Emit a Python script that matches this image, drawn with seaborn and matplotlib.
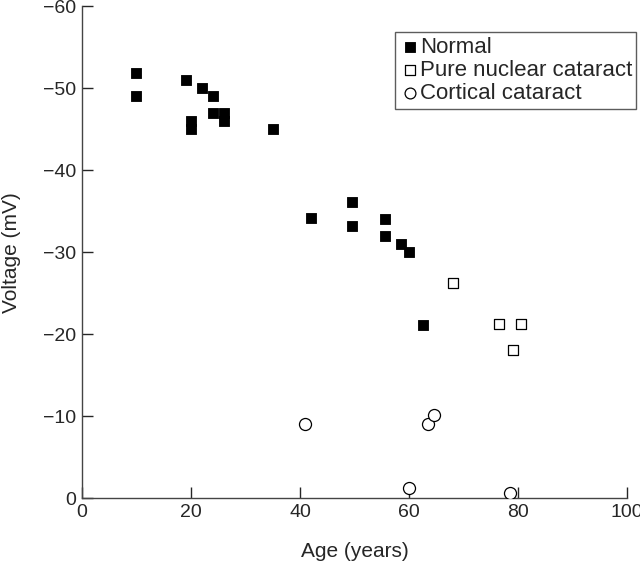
"""Lens voltage versus age scatter."""

import matplotlib.pyplot as plt
import pandas as pd
import seaborn as sns

# Normal lenses
normal_age = [10, 10, 19, 22, 24, 24, 26, 26, 20, 20, 35, 42, 49.5, 49.5, 55.5, 55.5, 58.5, 60, 62.5]
normal_mv = [-51.9, -49, -51, -50, -49, -47, -47, -46, -46, -45, -45, -34.2, -36.1, -33.2, -34, -32, -31, -30, -21.1]

# Pure nuclear cataract
nuclear_age = [68, 76.5, 80.5, 79]
nuclear_mv = [-26.3, -21.2, -21.2, -18.1]

# Cortical cataract
cortical_age = [41, 63.5, 64.5, 60, 78.5]
cortical_mv = [-9, -9, -10.1, -1.2, -0.6]

x_ticks = [0, 20, 40, 60, 80, 100]
y_ticks = [0, -10, -20, -30, -40, -50, -60]

df = pd.concat([
    pd.DataFrame({"age": normal_age, "mv": normal_mv, "group": "Normal"}),
    pd.DataFrame({"age": nuclear_age, "mv": nuclear_mv, "group": "Pure nuclear cataract"}),
    pd.DataFrame({"age": cortical_age, "mv": cortical_mv, "group": "Cortical cataract"}),
])

sns.set_style("ticks")
plt.rcParams["font.family"] = ["Liberation Sans", "DejaVu Sans"]

fig = plt.figure(figsize=(6.4, 5.61), dpi=100)
ax = fig.add_axes([0.128, 0.112, 0.852, 0.877])

styles = {
    "Normal": dict(marker="s", color="black", edgecolor="black", s=60),
    "Pure nuclear cataract": dict(marker="s", color="white", edgecolor="black", s=60, linewidth=0.9),
    "Cortical cataract": dict(marker="o", color="white", edgecolor="black", s=75, linewidth=0.9),
}
for name, kw in styles.items():
    sub = df[df["group"] == name]
    sns.scatterplot(data=sub, x="age", y="mv", ax=ax, label=name, zorder=3, **kw)

ax.set_xlim(0, 100)
ax.set_ylim(0, -60)
ax.set_xticks(x_ticks)
ax.set_yticks(y_ticks)
ax.tick_params(direction="in", length=8, width=1, labelsize=14, pad=4)
ax.set_xlabel("Age (years)", fontsize=15, labelpad=15)
ax.set_ylabel("Voltage (mV)", fontsize=15)
ax.yaxis.set_label_coords(-0.112, 0.5)
sns.despine(ax=ax)
for sp in ("left", "bottom"):
    ax.spines[sp].set_linewidth(1)
    ax.spines[sp].set_color("#444444")

leg = ax.legend(loc="upper right", bbox_to_anchor=(1.017, 0.947), fontsize=16,
                frameon=True, fancybox=False, edgecolor="#333333",
                handletextpad=0.0, borderpad=0.2, labelspacing=0.1,
                markerscale=0.9, handlelength=0.9, borderaxespad=0)
leg.get_frame().set_linewidth(1)

plt.savefig("out.png", dpi=100)
plt.close()
